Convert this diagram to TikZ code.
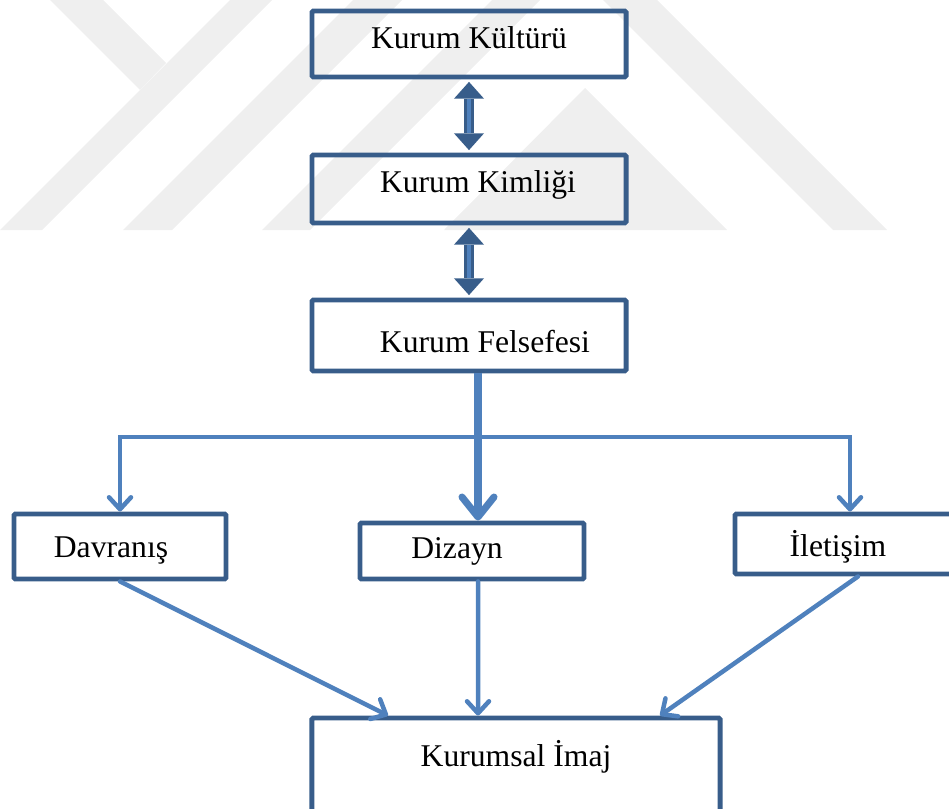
\documentclass[tikz,border=0pt]{standalone}
\usepackage{fontspec}
\setmainfont{Liberation Serif}
\usetikzlibrary{arrows.meta,calc}

\definecolor{kutumavi}{HTML}{385D8A}
\definecolor{okmavi}{HTML}{4F81BD}
\definecolor{filigrangri}{HTML}{EFEFEF}

% metni kutu icinde kaydir: {sag}{yukari}{metin}
\newcommand{\kaydir}[3]{\raisebox{#2}[\height][\depth]{\hspace*{#1}#3\hspace*{-#1}}}

\begin{document}
\begin{tikzpicture}[x=0.025cm, y=-0.025cm,
    kutu/.style={rectangle, draw=kutumavi, line width=3.5pt, rounded corners=1pt, inner sep=0pt, font=\fontsize{22.5}{27}\selectfont},
    ok/.style={draw=okmavi, line width=3.2pt, line cap=round, -{Straight Barb[round, length=0.3cm, width=0.55cm]}},
    govde/.style={draw=okmavi, line width=5pt, -{Straight Barb[round, length=0.5cm, width=0.8cm]}},
    cift/.style={draw=kutumavi, line width=0.25cm, {Triangle[width=0.75cm, length=0.42cm, line width=0pt]}-{Triangle[width=0.75cm, length=0.42cm, line width=0pt]}},
    ciftic/.style={draw=okmavi, line width=0.09cm},
    filigran/.style={fill=filigrangri}]

    \useasboundingbox (0,0) rectangle (949,809);

    % Filigran
    \fill[filigran] (0,230) -- (42,230) -- (272,0) -- (230,0) -- cycle;
    \fill[filigran] (50,0) -- (103,0) -- (166,63) -- (140,90) -- cycle;
    \fill[filigran] (123,230) -- (172,230) -- (402,0) -- (353,0) -- cycle;
    \fill[filigran] (262,230) -- (492,0) -- (657,0) -- (887,230) -- (833,230) -- (603,0) -- (540,0) -- (310,230) -- cycle;
    \fill[filigran] (444,230) -- (585,88) -- (727,230) -- cycle;

    % Nodes
    \node[kutu, minimum width=7.85cm, minimum height=1.65cm] at (469, 44) (kultur) {\kaydir{0cm}{0.15cm}{Kurum Kültürü}};
    \node[kutu, minimum width=7.85cm, minimum height=1.7cm] at (469, 189) (kimlik) {\kaydir{0.225cm}{0.1cm}{Kurum Kimliği}};
    \node[kutu, minimum width=7.85cm, minimum height=1.775cm] at (469, 335.5) (felsefe) {\kaydir{0.4cm}{-0.15cm}{Kurum Felsefesi}};
    \node[kutu, minimum width=5.3cm, minimum height=1.625cm] at (120, 546.5) (davranis) {\kaydir{-0.225cm}{-0.09cm}{Davranış}};
    \node[kutu, minimum width=5.6cm, minimum height=1.4cm] at (472, 551) (dizayn) {\kaydir{-0.375cm}{0cm}{Dizayn}};
    \node[kutu, minimum width=5.75cm, minimum height=1.5cm] at (850, 544) (iletisim) {\kaydir{-0.3cm}{-0.08cm}{İletişim}};
    \node[kutu, minimum width=10.2cm, minimum height=2.35cm] at (516, 765) (imaj) {\kaydir{0cm}{0.2cm}{Kurumsal İmaj}};

    \coordinate (dagit) at (478, 437);

    % cift yonlu oklar
    \draw[cift, shorten <=0.06cm, shorten >=0.06cm] (kultur) -- (kimlik);
    \draw[ciftic, shorten <=0.5cm, shorten >=0.5cm] (kultur) -- (kimlik);
    \draw[cift, shorten <=0.06cm, shorten >=0.06cm] (kimlik) -- (felsefe);
    \draw[ciftic, shorten <=0.5cm, shorten >=0.5cm] (kimlik) -- (felsefe);

    \draw[govde] ($(felsefe.south)+(9,0)$) -- ($(dizayn.north)+(6,0)$);
    \draw[ok] (dagit) -| (davranis);
    \draw[ok] (dagit) -| (iletisim);

    \draw[ok] (davranis.south) -- ($(imaj.north west)!0.19!(imaj.north east)$);
    \draw[ok] ($(dizayn.south)+(6,0)$) -- ($(imaj.north west)!0.408!(imaj.north east)$);
    \draw[ok] ($(iletisim.south)+(8,0)$) -- ($(imaj.north west)!0.849!(imaj.north east)$);

\end{tikzpicture}
\end{document}
